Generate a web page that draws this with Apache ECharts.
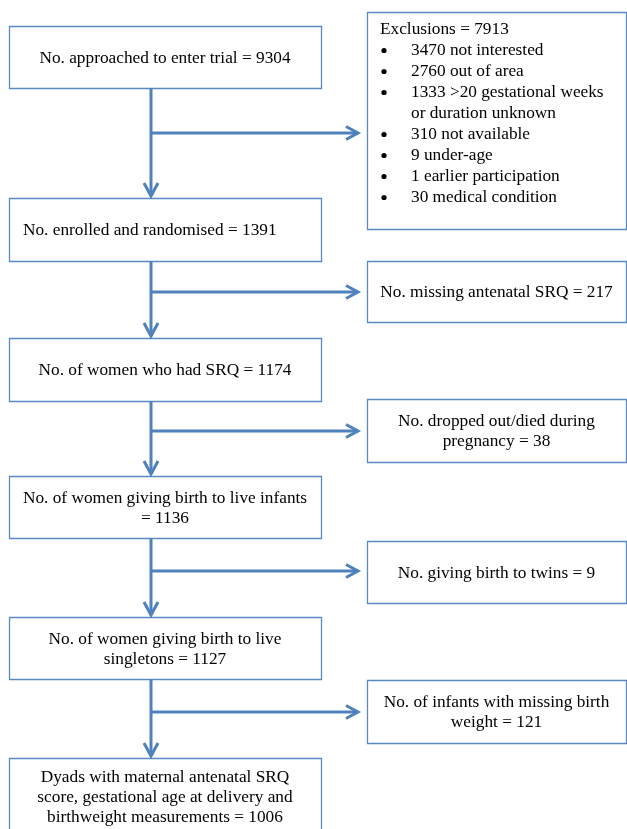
<!DOCTYPE html>
<html>
<head>
<meta charset="utf-8">
<script src="https://cdn.jsdelivr.net/npm/echarts@6/dist/echarts.min.js"></script>
<style>
html,body{margin:0;padding:0;background:#fff;}
#chart{width:627px;height:829px;}
</style>
</head>
<body>
<div id="chart"></div>
<script>
// ---- Data ----
const mainLabels = [
  'No. approached to enter trial =',
  'No. enrolled and randomised =',
  'No. of women who had SRQ =',
  'No. of women giving birth to live infants\n=',
  'No. of women giving birth to live\nsingletons =',
  'Dyads with maternal antenatal SRQ\nscore, gestational age at delivery and\nbirthweight measurements ='
];
const mainCounts = [9304, 1391, 1174, 1136, 1127, 1006];

const exclLabels = [
  'Exclusions =',
  'No. missing antenatal SRQ =',
  'No. dropped out/died during\npregnancy =',
  'No. giving birth to twins =',
  'No. of infants with missing birth\nweight ='
];
const exclCounts = [7913, 217, 38, 9, 121];

const reasonCounts = [3470, 2760, 1333, 310, 9, 1, 30];
const reasonLabels = [
  'not interested',
  'out of area',
  '>20 gestational weeks\nor duration unknown',
  'not available',
  'under-age',
  'earlier participation',
  'medical condition'
];

// ---- Layout (page coordinates on hidden axes) ----
const mainCol = [9, 321];
const sideCol = [367, 626];
const mainTops = [26, 198, 338, 476, 617, 758];
const mainBottoms = [88, 261, 401, 538, 679, 845];
const sideTops = [12, 261, 399, 541, 680];
const sideBottoms = [229, 322, 462, 603, 743];
const branchY = [133, 292, 431, 571, 712];
const trunkX = 151;
const branchEndX = 358;

const LINE = '#4F81BD';
const BORDER = '#5A8AC6';
const FONT = '"Liberation Serif", "Times New Roman", serif';
const FS = '17.3px ';

function mainText(i) { return mainLabels[i] + ' ' + mainCounts[i]; }
function sideText(i) { return exclLabels[i] + ' ' + exclCounts[i]; }

const chart = echarts.init(document.getElementById('chart'), null, {renderer: 'canvas'});

function boxRect(api, x1, y1, x2, y2) {
  const p1 = api.coord([x1, y1]);
  const p2 = api.coord([x2, y2]);
  return {x: Math.min(p1[0], p2[0]), y: Math.min(p1[1], p2[1]), w: Math.abs(p2[0] - p1[0]), h: Math.abs(p2[1] - p1[1])};
}

const option = {
  animation: false,
  backgroundColor: '#ffffff',
  grid: {left: 0, right: 0, top: 0, bottom: 0},
  xAxis: {type: 'value', min: 0, max: 627, show: false},
  yAxis: {type: 'value', min: 0, max: 829, inverse: true, show: false},
  series: [
    // main boxes
    {
      type: 'custom', coordinateSystem: 'cartesian2d', clip: false,
      data: mainCounts.map((c, i) => [i, c]),
      renderItem: function (params, api) {
        const i = params.dataIndex;
        const r = boxRect(api, mainCol[0], mainTops[i], mainCol[1], mainBottoms[i]);
        const leftAlign = (i === 1);
        return {
          type: 'group',
          children: [
            {type: 'rect', shape: {x: r.x + 0.5, y: r.y + 0.5, width: r.w, height: r.h},
             style: {fill: '#fff', stroke: BORDER, lineWidth: 1.3}},
            {type: 'text', x: leftAlign ? r.x + 14 : r.x + r.w / 2, y: (i === 5 ? r.y + 39 : r.y + r.h / 2 + 1),
             style: {text: mainText(i), font: FS + FONT, fill: '#000',
                     align: leftAlign ? 'left' : 'center', verticalAlign: 'middle', lineHeight: 20}}
          ]
        };
      }
    },
    // side boxes
    {
      type: 'custom', coordinateSystem: 'cartesian2d', clip: false,
      data: exclCounts.map((c, i) => [i, c]),
      renderItem: function (params, api) {
        const i = params.dataIndex;
        const r = boxRect(api, sideCol[0], sideTops[i], sideCol[1], sideBottoms[i]);
        const children = [
          {type: 'rect', shape: {x: r.x + 0.5, y: r.y + 0.5, width: r.w, height: r.h},
           style: {fill: '#fff', stroke: BORDER, lineWidth: 1.3}}
        ];
        if (i === 0) {
          children.push({type: 'text', x: r.x + 13, y: r.y + 17,
            style: {text: sideText(0), font: FS + FONT, fill: '#000', align: 'left', verticalAlign: 'middle'}});
          let line = 1;
          reasonCounts.forEach((c, k) => {
            const y = r.y + 17 + line * 21;
            children.push({type: 'circle', shape: {cx: r.x + 17, cy: y + 0.5, r: 2.6}, style: {fill: '#000'}});
            children.push({type: 'text', x: r.x + 44, y: y - 10.5,
              style: {text: c + ' ' + reasonLabels[k], font: FS + FONT, fill: '#000', align: 'left', verticalAlign: 'top', lineHeight: 21}});
            line += reasonLabels[k].split('\n').length;
          });
        } else {
          children.push({type: 'text', x: r.x + r.w / 2, y: r.y + r.h / 2 + 1,
            style: {text: sideText(i), font: FS + FONT, fill: '#000', align: 'center', verticalAlign: 'middle', lineHeight: 20}});
        }
        return {type: 'group', children: children};
      }
    },
    // trunk arrows (between main boxes)
    {
      type: 'custom', coordinateSystem: 'cartesian2d', clip: false,
      data: mainCounts.slice(1).map((c, i) => [i, c]),
      renderItem: function (params, api) {
        const i = params.dataIndex;
        const a = api.coord([trunkX, mainBottoms[i]]);
        const b = api.coord([trunkX, mainTops[i + 1] - 2]);
        return {
          type: 'group',
          children: [
            {type: 'polyline', shape: {points: [a, b]}, style: {stroke: LINE, lineWidth: 3, fill: null}},
            {type: 'polyline', shape: {points: [[b[0] - 7, b[1] - 13], b, [b[0] + 7, b[1] - 13]]},
             style: {stroke: LINE, lineWidth: 3, fill: null, lineJoin: 'miter'}}
          ]
        };
      }
    },
    // branch arrows (to exclusion boxes)
    {
      type: 'custom', coordinateSystem: 'cartesian2d', clip: false,
      data: exclCounts.map((c, i) => [i, c]),
      renderItem: function (params, api) {
        const i = params.dataIndex;
        const a = api.coord([trunkX, branchY[i]]);
        const b = api.coord([branchEndX, branchY[i]]);
        return {
          type: 'group',
          children: [
            {type: 'polyline', shape: {points: [a, b]}, style: {stroke: LINE, lineWidth: 3, fill: null}},
            {type: 'polyline', shape: {points: [[b[0] - 12, b[1] - 6.5], b, [b[0] - 12, b[1] + 6.5]]},
             style: {stroke: LINE, lineWidth: 3, fill: null, lineJoin: 'miter'}}
          ]
        };
      }
    }
  ]
};
chart.setOption(option);
</script>
</body>
</html>
